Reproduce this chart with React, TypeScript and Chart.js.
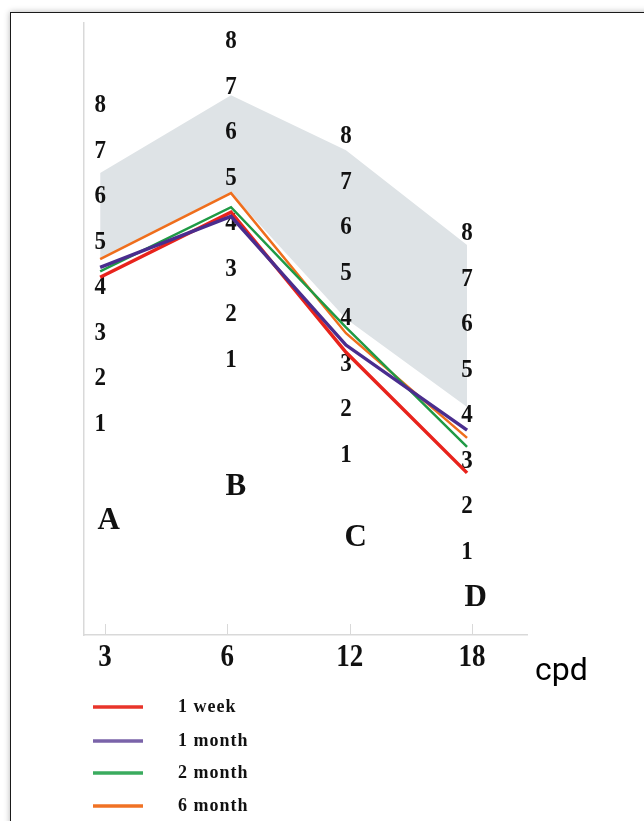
import React, { useEffect, useRef } from "react";
import { Chart, registerables } from "chart.js";

Chart.register(...registerables);

// ---- data ----
const categories = ["3", "6", "12", "18"];
const columnLetters = ["A", "B", "C", "D"];
const gradeTicks = [1, 2, 3, 4, 5, 6, 7, 8];
// horizontal place of each grade column (category-axis units, 0 = "3")
const columnX = [-0.04, 1.03, 1.97, 2.96];
const letterX = [0.03, 1.07, 2.05, 3.03];
// vertical shift of each column's 1..8 scale (grade units)
const columnShift = [2.81, 4.22, 2.13, 0];
const letterGrade = [-1.11, -1.79, -0.82, 0.0];

const seriesNames = ["1 week", "1 month", "2 month", "6 month"];
const week1 = [4.23, 4.25, 3.26, 2.74];
const month1 = [4.45, 4.16, 3.42, 3.68];
const month2 = [4.36, 4.36, 3.81, 3.31];
const month6 = [4.63, 4.67, 3.68, 3.51];
const bandUpper = [6.52, 6.82, 7.7, 7.75];
const bandLower = [4.63, 4.67, 4.0, 4.19];

const seriesColors = ["#e8231c", "#4a2d8e", "#1f9a45", "#ef6e1c"];
const legendColors = ["#e8342a", "#7a63a9", "#3aab5e", "#f07224"];
const seriesWidths = [3.5, 3.5, 2.5, 2.5];
const seriesOrder = [1, 0, 2, 3];
const bandColor = "#dee3e6";
const axisColor = "#d9d9d9";

const serif = "'Liberation Serif', 'Times New Roman', serif";

const toPoints = (vals: number[]) =>
  columnX.map((cx, i) => ({ x: cx, y: vals[i] + columnShift[i] }));

function drawStretched(ctx: any, text: string, x: number, y: number, sy: number) {
  ctx.save();
  ctx.translate(x, y);
  ctx.scale(1, sy);
  ctx.fillText(text, 0, 0);
  ctx.restore();
}

const decorPlugin = {
  id: "decor",
  afterDatasetDraw(chart: any, args: any) {
    if (args.index !== 4) return;
    const { ctx } = chart;
    const xs = chart.scales.x;
    const ys = chart.scales.y;
    ctx.save();
    ctx.fillStyle = "#111";
    ctx.textAlign = "center";
    ctx.textBaseline = "middle";
    ctx.font = `bold 23px ${serif}`;
    columnX.forEach((cx, i) => {
      gradeTicks.forEach((k) => {
        drawStretched(ctx, String(k), xs.getPixelForValue(cx), ys.getPixelForValue(k + columnShift[i]), 1.1);
      });
    });
    ctx.font = `bold 31px ${serif}`;
    columnLetters.forEach((L, i) => {
      drawStretched(ctx, L, xs.getPixelForValue(letterX[i]), ys.getPixelForValue(letterGrade[i] + columnShift[i]), 1.05);
    });
    ctx.restore();
  },
  afterDraw(chart: any) {
    const { ctx, chartArea } = chart;
    const xs = chart.scales.x;
    ctx.save();
    // inward tick marks and category labels
    ctx.strokeStyle = axisColor;
    ctx.lineWidth = 1;
    ctx.fillStyle = "#111";
    ctx.font = `bold 27px ${serif}`;
    ctx.textAlign = "center";
    ctx.textBaseline = "middle";
    categories.forEach((c, i) => {
      const px = Math.round(xs.getPixelForValue(i)) + 0.5;
      ctx.beginPath();
      ctx.moveTo(px, chartArea.bottom);
      ctx.lineTo(px, chartArea.bottom - 11);
      ctx.stroke();
      drawStretched(ctx, c, xs.getPixelForValue(i), chartArea.bottom + 23, 1.2);
    });
    // unit label
    ctx.fillStyle = "#000";
    ctx.font = "32px Roboto";
    ctx.textAlign = "left";
    ctx.textBaseline = "alphabetic";
    ctx.fillText("cpd", chartArea.right + 8, chartArea.bottom + 45);
    // legend
    const rowY = [707, 741, 773, 806];
    seriesNames.forEach((name, i) => {
      ctx.strokeStyle = legendColors[i];
      ctx.lineWidth = 3.5;
      ctx.beginPath();
      ctx.moveTo(93, rowY[i]);
      ctx.lineTo(143, rowY[i]);
      ctx.stroke();
      ctx.fillStyle = "#111";
      ctx.font = `bold 18px ${serif}`;
      ctx.textBaseline = "middle";
      (ctx as any).letterSpacing = "1px";
      ctx.fillText(name, 178, rowY[i]);
      (ctx as any).letterSpacing = "0px";
    });
    ctx.restore();
  },
};

export default function App() {
  const ref = useRef<HTMLCanvasElement | null>(null);

  useEffect(() => {
    if (!ref.current) return;
    const seriesVals = [week1, month1, month2, month6];
    const lineSets = seriesNames.map((name, i) => ({
      label: name,
      data: toPoints(seriesVals[i]),
      borderColor: seriesColors[i],
      borderWidth: seriesWidths[i],
      pointRadius: 0,
      fill: false,
      tension: 0,
      borderJoinStyle: "miter",
      order: seriesOrder[i],
    }));
    const chart = new Chart(ref.current, {
      type: "line",
      data: {
        datasets: [
          ...lineSets,
          {
            label: "band upper",
            data: toPoints(bandUpper),
            borderWidth: 0,
            borderColor: "rgba(0,0,0,0)",
            backgroundColor: bandColor,
            pointRadius: 0,
            fill: "+1",
            tension: 0,
            order: 10,
          },
          {
            label: "band lower",
            data: toPoints(bandLower),
            borderWidth: 0,
            borderColor: "rgba(0,0,0,0)",
            pointRadius: 0,
            fill: false,
            tension: 0,
            order: 11,
          },
        ] as any,
      },
      options: {
        animation: false,
        responsive: false,
        maintainAspectRatio: false,
        devicePixelRatio: 1,
        layout: { padding: { left: 84, top: 23, right: 117, bottom: 146 } },
        plugins: { legend: { display: false }, tooltip: { enabled: false } },
        scales: {
          x: {
            type: "linear",
            min: -0.172,
            max: 3.45,
            afterBuildTicks: (scale: any) => {
              scale.ticks = categories.map((_, i) => ({ value: i }));
            },
            afterFit: (scale: any) => {
              scale.height = 40;
            },
            grid: { display: false },
            border: { display: true, color: axisColor, width: 1.5 },
            ticks: { display: false },
          },
          y: {
            type: "linear",
            min: -0.824,
            max: 12.63,
            afterFit: (scale: any) => {
              scale.width = 0;
            },
            grid: { display: false },
            border: { display: true, color: axisColor, width: 1.5 },
            ticks: { display: false },
          },
        },
      } as any,
      plugins: [decorPlugin],
    });
    return () => chart.destroy();
  }, []);

  return (
    <div
      style={{
        position: "absolute",
        left: 0,
        top: 0,
        width: 644,
        height: 821,
        overflow: "hidden",
        background: "#fff",
      }}
    >
      <div
        style={{
          position: "absolute",
          left: 10,
          top: 12,
          width: 800,
          height: 900,
          border: "1px solid #1a1a1a",
          boxShadow: "0 0 6px rgba(0,0,0,0.3)",
          background: "#fff",
        }}
      />
      <canvas
        ref={ref}
        width={644}
        height={821}
        style={{ position: "absolute", left: 0, top: 0, width: 644, height: 821 }}
      />
    </div>
  );
}
